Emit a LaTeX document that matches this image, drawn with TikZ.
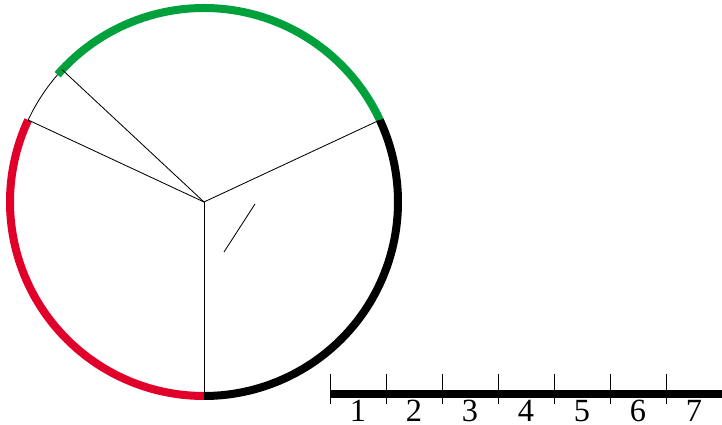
\documentclass[tikz,border=0pt]{standalone}
\usepackage{fontspec}
\setmainfont{Liberation Serif}
\usetikzlibrary{calc}
\definecolor{ArcGreen}{HTML}{00A03C}
\definecolor{ArcRed}{HTML}{E0002A}
\tikzset{
    % Thick coloured arc
    band/.style={line width=0.2cm},
    % Thin spoke from the centre
    spoke/.style={line width=0.6pt, color=black},
    % Ruler bar
    rulerbar/.style={line width=0.19cm, color=black},
    % Ruler tick
    rulertick/.style={line width=0.6pt, color=black},
    % Ruler digit
    digit/.style={font=\fontsize{23}{26}\selectfont, inner sep=0pt}
}
\begin{document}
\begin{tikzpicture}[x=0.025cm, y=0.025cm]
    \useasboundingbox (0,0) rectangle (722,425);
    % Circle and its spokes
    \coordinate (O) at (204,223);
    \coordinate (pR) at ($(O)+(25:194)$);
    \coordinate (pG) at ($(O)+(139:194)$);
    \coordinate (pS) at ($(O)+(137:194)$);
    \coordinate (pL) at ($(O)+(155:194)$);
    \coordinate (pB) at ($(O)+(270:194)$);

    \draw [band, ArcGreen] (pR) arc[start angle=25, end angle=139, radius=194];
    \draw [spoke] (pG) arc[start angle=139, end angle=155, radius=194];
    \draw [band, ArcRed] (pL) arc[start angle=155, end angle=270, radius=194];
    \draw [band, black] (pB) arc[start angle=270, end angle=385, radius=194];

    \draw [spoke] (O) -- (pR);
    \draw [spoke] (O) -- (pS);
    \draw [spoke] (O) -- (pL);
    \draw [spoke] (O) -- (pB);

    \coordinate (s1) at (224,173);
    \coordinate (s2) at (255,221);
    \draw [spoke] (s1) -- (s2);

    % Ruler
    \coordinate (r0) at (330,31);
    \coordinate (r1) at (722,31);
    \draw [rulerbar] (r0) -- (r1);
    \foreach \i in {0,...,7} {
        \draw [rulertick] (330+56*\i,51) -- (330+56*\i,21);
    }
    \foreach \i in {1,...,7} {
        \node [digit] (n\i) at (302+56*\i,14) {\i};
    }
\end{tikzpicture}
\end{document}
